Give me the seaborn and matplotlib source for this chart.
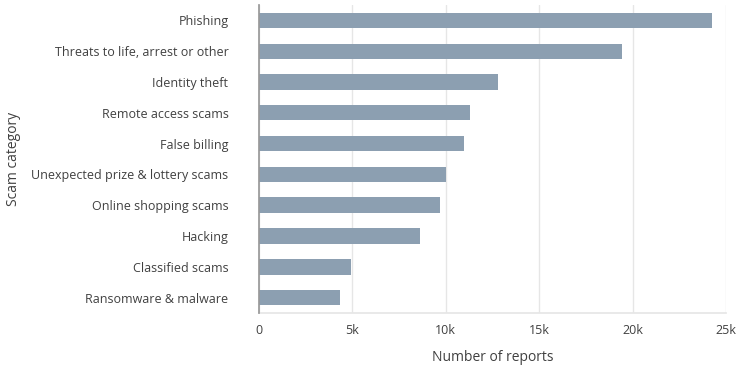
import numpy as np
import pandas as pd
import matplotlib.pyplot as plt
import seaborn as sns
from matplotlib.ticker import FuncFormatter

categories = [
    "Phishing",
    "Threats to life, arrest or other",
    "Identity theft",
    "Remote access scams",
    "False billing",
    "Unexpected prize & lottery scams",
    "Online shopping scams",
    "Hacking",
    "Classified scams",
    "Ransomware & malware",
]
reports = [24250, 19420, 12780, 11310, 10970, 10020, 9670, 8600, 4950, 4340]

df = pd.DataFrame({"Scam category": categories, "Number of reports": reports})

sns.set_theme(style="white")
plt.rcParams['font.family'] = ['Open Sans', 'DejaVu Sans']
text_col = "#404040"

fig = plt.figure(figsize=(7.38, 3.69), dpi=100)
ax = fig.add_axes([259 / 738, 1 - 313 / 369, (726 - 259) / 738, (313 - 5) / 369])

sns.barplot(data=df, x="Number of reports", y="Scam category", color="#8c9fb1",
            width=0.5, saturation=1, linewidth=0, ax=ax, zorder=3)

ax.set_xlim(0, 25000)
ax.set_ylim(9.5, -0.5)
ax.set_xticks([0, 5000, 10000, 15000, 20000, 25000])
ax.xaxis.set_major_formatter(FuncFormatter(lambda v, p: "0" if v == 0 else f"{int(v/1000)}k"))
ax.grid(axis="x", color="#e6e6e6", linewidth=1, zorder=0)

for s in ["top", "right"]:
    ax.spines[s].set_visible(False)
ax.spines["bottom"].set_color("#e6e6e6")
ax.spines["left"].set_color("#999999")
ax.spines["left"].set_zorder(4)

ax.tick_params(axis="y", length=0, pad=22, labelsize=9, labelcolor=text_col)
ax.tick_params(axis="x", length=0, pad=8, labelsize=9, labelcolor=text_col)
ax.set_xlabel("Number of reports", fontsize=10, color=text_col, labelpad=9)
ax.set_ylabel("Scam category", fontsize=10, color=text_col)
ax.yaxis.set_label_coords(-0.51, 0.5)

fig.savefig("out.png", dpi=100)
